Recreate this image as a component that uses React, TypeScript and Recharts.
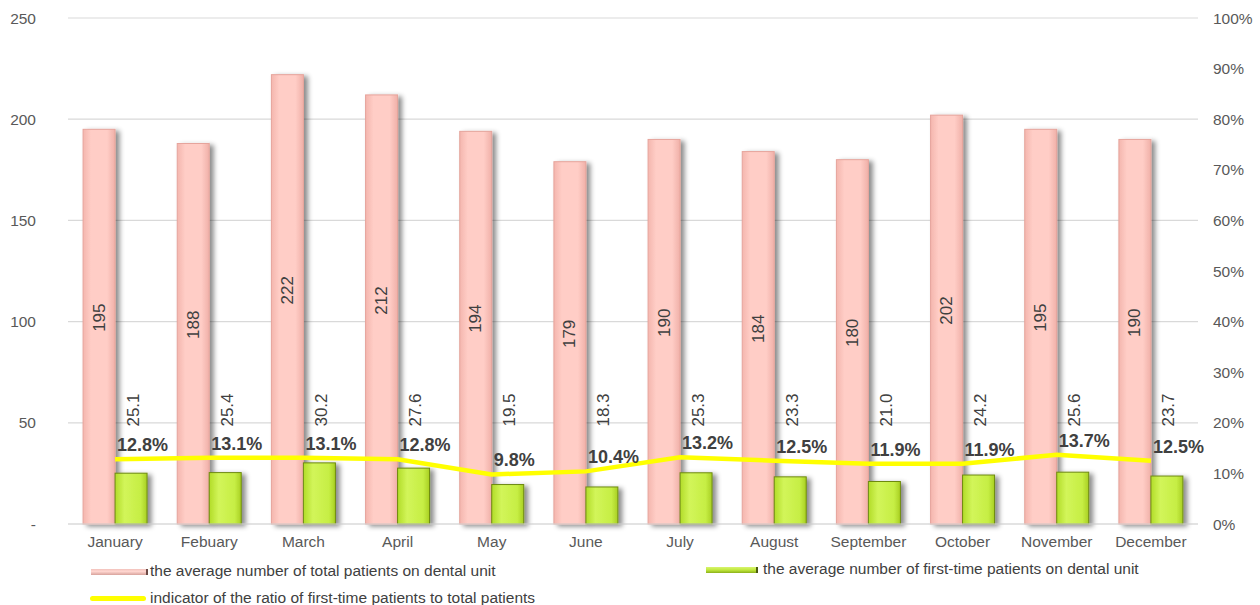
import React from "react";
import {
  ComposedChart,
  Bar,
  Line,
  XAxis,
  YAxis,
  CartesianGrid,
  LabelList,
} from "recharts";

const months = [
  "January",
  "Febuary",
  "March",
  "April",
  "May",
  "June",
  "July",
  "August",
  "September",
  "October",
  "November",
  "December",
];
const totalPatients = [195, 188, 222, 212, 194, 179, 190, 184, 180, 202, 195, 190];
const firstTimePatients = [25.1, 25.4, 30.2, 27.6, 19.5, 18.3, 25.3, 23.3, 21.0, 24.2, 25.6, 23.7];
const ratioPercent = [12.8, 13.1, 13.1, 12.8, 9.8, 10.4, 13.2, 12.5, 11.9, 11.9, 13.7, 12.5];

const leftTicks = [0, 50, 100, 150, 200, 250];
const rightTicks = [0, 10, 20, 30, 40, 50, 60, 70, 80, 90, 100];

const legendTotal = "the average number of total patients on dental unit";
const legendFirst = "the average number of first-time patients on dental unit";
const legendRatio = "indicator of the ratio of first-time patients to total patients";

const data = months.map((m, i) => ({
  month: m,
  total: totalPatients[i],
  first: firstTimePatients[i],
  ratio: ratioPercent[i],
}));

const FONT = '"Liberation Sans", Arial, sans-serif';
const TEXT = "#595959";

const shadowBar = (fill: string, stroke: string) => (props: any) => {
  const { x, y, width, height } = props;
  if (height <= 0) return <g />;
  return (
    <rect
      x={x}
      y={y}
      width={width}
      height={height}
      fill={fill}
      stroke={stroke}
      strokeWidth={1}
      filter="url(#barShadow)"
    />
  );
};

// value inside the pink bar, turned on its side
const totalLabel = (props: any) => {
  const { x, y, width, height, value } = props;
  const cx = x + width / 2;
  const cy = y + height / 2 - 9;
  return (
    <text
      x={cx}
      y={cy}
      transform={`rotate(-90 ${cx} ${cy})`}
      textAnchor="middle"
      dominantBaseline="central"
      fontFamily={FONT}
      fontSize={17}
      fill="#404040"
    >
      {value}
    </text>
  );
};

// first-time values sit on a common row above the green bars
const firstLabel = (props: any) => {
  const { x, width, value } = props;
  const cx = x + width / 2 + 2;
  const cy = 410;
  return (
    <text
      x={cx}
      y={cy}
      transform={`rotate(-90 ${cx} ${cy})`}
      textAnchor="middle"
      dominantBaseline="central"
      fontFamily={FONT}
      fontSize={17}
      fill="#404040"
    >
      {Number(value).toFixed(1)}
    </text>
  );
};

const ratioLabel = (props: any) => {
  const { x, y, value } = props;
  return (
    <text
      x={x + 2}
      y={y - 8}
      textAnchor="start"
      fontFamily={FONT}
      fontSize={18}
      fontWeight="bold"
      fill="#404040"
    >
      {`${Number(value).toFixed(1)}%`}
    </text>
  );
};

const legendText: React.CSSProperties = {
  position: "absolute",
  fontFamily: FONT,
  fontSize: 15.5,
  color: "#404040",
  lineHeight: "18px",
  whiteSpace: "nowrap",
};

export default function App() {
  return (
    <div
      style={{
        position: "absolute",
        left: 0,
        top: 0,
        width: 1260,
        height: 605,
        background: "#fff",
      }}
    >
      <ComposedChart
        width={1260}
        height={605}
        data={data}
        margin={{ top: 18, right: 0, bottom: 51, left: 0 }}
        barCategoryGap="16%"
        barGap={0}
      >
        <defs>
          <filter id="barShadow" x="-30%" y="-10%" width="180%" height="130%">
            <feDropShadow dx={4} dy={2} stdDeviation={2.5} floodColor="#000" floodOpacity={0.45} />
          </filter>
          <linearGradient id="pinkFill" x1="0" y1="0" x2="1" y2="0">
            <stop offset="0%" stopColor="#f4b6ae" />
            <stop offset="25%" stopColor="#ffcdc6" />
            <stop offset="75%" stopColor="#ffcdc6" />
            <stop offset="100%" stopColor="#f0b0a8" />
          </linearGradient>
          <linearGradient id="greenFill" x1="0" y1="0" x2="1" y2="0">
            <stop offset="0%" stopColor="#b2dc28" />
            <stop offset="30%" stopColor="#d2f55a" />
            <stop offset="80%" stopColor="#c6ee44" />
            <stop offset="100%" stopColor="#a8cf22" />
          </linearGradient>
        </defs>
        <CartesianGrid
          yAxisId="left"
          vertical={false}
          stroke="#d9d9d9"
          strokeWidth={1.2}
        />
        <XAxis
          dataKey="month"
          axisLine={{ stroke: "#d9d9d9", strokeWidth: 1.2 }}
          tickLine={false}
          tickSize={0}
          tickMargin={12}
          height={30}
          interval={0}
          tick={{ fill: TEXT, fontSize: 15.5, fontFamily: FONT }}
        />
        <YAxis
          yAxisId="left"
          orientation="left"
          width={68}
          domain={[0, 250]}
          ticks={leftTicks}
          axisLine={false}
          tickLine={false}
          tickSize={0}
          tickMargin={32}
          tickFormatter={(v: number) => (v === 0 ? "-" : String(v))}
          tick={{ fill: TEXT, fontSize: 15.5, fontFamily: FONT }}
        />
        <YAxis
          yAxisId="right"
          orientation="right"
          width={62}
          domain={[0, 100]}
          ticks={rightTicks}
          axisLine={false}
          tickLine={false}
          tickSize={0}
          tickMargin={15}
          tickFormatter={(v: number) => `${v}%`}
          tick={{ fill: TEXT, fontSize: 15.5, fontFamily: FONT }}
        />
        <Bar
          yAxisId="left"
          dataKey="total"
          shape={shadowBar("url(#pinkFill)", "#e6a49c")}
          isAnimationActive={false}
        >
          <LabelList dataKey="total" content={totalLabel} />
        </Bar>
        <Bar
          yAxisId="left"
          dataKey="first"
          shape={shadowBar("url(#greenFill)", "#6e8a12")}
          isAnimationActive={false}
        >
          <LabelList dataKey="first" content={firstLabel} />
        </Bar>
        <Line
          yAxisId="right"
          dataKey="ratio"
          type="linear"
          stroke="#ffff00"
          strokeWidth={4.5}
          dot={false}
          activeDot={false}
          isAnimationActive={false}
        >
          <LabelList dataKey="ratio" content={ratioLabel} />
        </Line>
      </ComposedChart>

      {/* legend */}
      <div
        style={{
          position: "absolute",
          left: 91,
          top: 569,
          width: 57,
          height: 6,
          background: "linear-gradient(#f2c2bc, #ffd6d0 40%, #d8a39c)",
          borderRight: "2px solid #6a4a46",
          boxSizing: "border-box",
        }}
      />
      <div style={{ ...legendText, left: 150, top: 562 }}>{legendTotal}</div>
      <div
        style={{
          position: "absolute",
          left: 706,
          top: 567,
          width: 52,
          height: 6,
          background: "linear-gradient(#d8f470, #c0e83c 50%, #8cb01a)",
          borderRight: "2px solid #4a5a10",
          boxSizing: "border-box",
        }}
      />
      <div style={{ ...legendText, left: 763, top: 560 }}>{legendFirst}</div>
      <div
        style={{
          position: "absolute",
          left: 90,
          top: 596,
          width: 56,
          height: 5,
          borderRadius: 3,
          background: "#ffff00",
        }}
      />
      <div style={{ ...legendText, left: 150, top: 589 }}>{legendRatio}</div>
    </div>
  );
}
